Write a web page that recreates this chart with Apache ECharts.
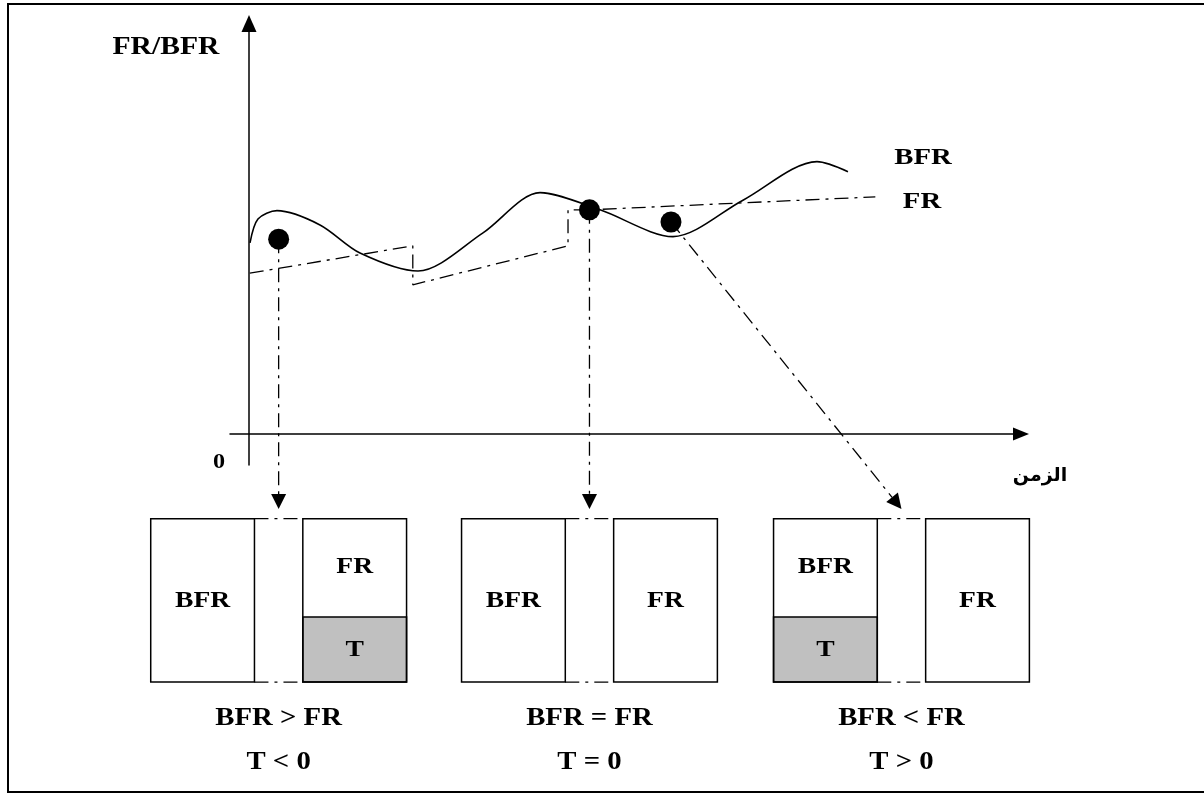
<!DOCTYPE html>
<html>
<head>
<meta charset="utf-8">
<script src="https://cdn.jsdelivr.net/npm/echarts@6/dist/echarts.min.js"></script>
<style>
html, body { margin: 0; padding: 0; background: #ffffff; }
#chart { width: 1204px; height: 794px; }
</style>
</head>
<body>
<div id="chart"></div>
<script>
// ================= DATA =================
// BFR curve (time, value)
const bfrTime  = [0.13, 1.15, 3.59, 9.1, 14.23, 21.67, 30.0, 37.31, 45.0, 54.36, 63.33, 72.82, 76.79];
const bfrValue = [45.6, 51.3, 53.3, 49.9, 43.2, 38.9, 48.0, 57.6, 53.5, 47.1, 55.8, 65.0, 62.6];
// FR step/ramp line (time, value)
const frTime   = [0.1, 21.0, 21.0, 40.9, 40.9, 43.65, 80.3];
const frValue  = [38.4, 44.9, 35.6, 44.9, 53.5, 53.5, 56.6];
// highlighted observation points
const pointTime  = [3.8, 43.65, 54.1];
const pointValue = [46.5, 53.5, 50.6];
// the three cases shown below the axis
const caseTime     = [3.8, 43.65, 83.65];
const caseBFR      = [39, 39, 23.5];
const caseFR       = [23.5, 39, 39];
const caseRelation = ['BFR > FR', 'BFR = FR', 'BFR < FR'];
const caseT        = ['T < 0', 'T = 0', 'T > 0'];
const seriesNames  = ['BFR', 'FR'];
const gapName      = 'T';
const yAxisName    = 'FR/BFR';
const xAxisName    = 'الزمن';
const originLabel  = '0';

// ================= LAYOUT =================
const PX_PER_X = 7.8, PX_PER_Y = 4.19;
const ORIGIN_PX = [249, 434];
const ux = px => (px - ORIGIN_PX[0]) / PX_PER_X;
const uy = py => (ORIGIN_PX[1] - py) / PX_PER_Y;
const PLOT = { left: 230, right: 1021, top: 23.5, bottom: 465 };
const BOX_BASE = -59.2, BOX_W = 13.3, BOX_GAP_HALF = 3.1;
const ARROW_TIP_V = -17.9;
const CAPTION_V = [-67.8, -78.5];
const DASHDOT = [14, 6, 3, 6];
const SERIF = '"Liberation Serif", "Times New Roman", serif';

const zip = (a, b) => a.map((v, i) => [v, b[i]]);

function renderArrow(params, api) {
  const i = params.dataIndex;
  const s = api.coord([pointTime[i], pointValue[i]]);
  const t = api.coord([caseTime[i], ARROW_TIP_V]);
  const dx = t[0] - s[0], dy = t[1] - s[1];
  const len = Math.sqrt(dx * dx + dy * dy);
  const ux_ = dx / len, uy_ = dy / len;
  const headL = 15, headW = 7.5;
  const b = [t[0] - ux_ * headL, t[1] - uy_ * headL];
  return {
    type: 'group',
    children: [
      { type: 'line', shape: { x1: s[0], y1: s[1], x2: b[0], y2: b[1] },
        style: { stroke: '#000', lineWidth: 1.3, lineDash: DASHDOT } },
      { type: 'polygon', shape: { points: [t, [b[0] - uy_ * headW, b[1] + ux_ * headW], [b[0] + uy_ * headW, b[1] - ux_ * headW]] },
        style: { fill: '#000' } }
    ]
  };
}

function txt(x, y, text, size, scaleX) {
  return { type: 'text', x: x, y: y, scaleX: scaleX, scaleY: 1,
    style: { text: text, textAlign: 'center', textVerticalAlign: 'middle',
      font: 'bold ' + size + 'px ' + SERIF, fill: '#000' } };
}

function renderCase(params, api) {
  const i = params.dataIndex;
  const c = caseTime[i];
  const total = Math.max(caseBFR[i], caseFR[i]);
  const top = BOX_BASE + total;
  const boxes = [
    { x0: c - BOX_GAP_HALF - BOX_W, x1: c - BOX_GAP_HALF, main: caseBFR[i], label: seriesNames[0] },
    { x0: c + BOX_GAP_HALF, x1: c + BOX_GAP_HALF + BOX_W, main: caseFR[i], label: seriesNames[1] }
  ];
  const children = [];
  const pix = [];
  boxes.forEach(b => {
    const tl = api.coord([b.x0, top]);
    const br = api.coord([b.x1, BOX_BASE]);
    pix.push([tl, br]);
    const tVal = total - b.main;
    const cx = (tl[0] + br[0]) / 2;
    if (tVal > 0) {
      const sp = api.coord([b.x0, BOX_BASE + tVal]);
      children.push({ type: 'rect', shape: { x: tl[0], y: sp[1], width: br[0] - tl[0], height: br[1] - sp[1] },
        style: { fill: '#c0c0c0', stroke: '#000', lineWidth: 1.5 } });
      children.push(txt(cx, (tl[1] + sp[1]) / 2 - 1, b.label, 24, 1.15));
      children.push(txt(cx, (sp[1] + br[1]) / 2, gapName, 24, 1.15));
    } else {
      children.push(txt(cx, (tl[1] + br[1]) / 2, b.label, 24, 1.15));
    }
    children.push({ type: 'rect', shape: { x: tl[0], y: tl[1], width: br[0] - tl[0], height: br[1] - tl[1] },
      style: { fill: 'none', stroke: '#000', lineWidth: 1.5 } });
  });
  // dash-dot connectors between the two boxes
  children.push({ type: 'line', shape: { x1: pix[0][1][0], y1: pix[0][0][1], x2: pix[1][0][0], y2: pix[1][0][1] },
    style: { stroke: '#000', lineWidth: 1.3, lineDash: DASHDOT } });
  children.push({ type: 'line', shape: { x1: pix[0][1][0], y1: pix[0][1][1], x2: pix[1][0][0], y2: pix[1][1][1] },
    style: { stroke: '#000', lineWidth: 1.3, lineDash: DASHDOT } });
  const cap1 = api.coord([c, CAPTION_V[0]]);
  const cap2 = api.coord([c, CAPTION_V[1]]);
  children.push(txt(cap1[0], cap1[1], caseRelation[i], 25, 1.15));
  children.push(txt(cap2[0], cap2[1], caseT[i], 25, 1.15));
  return { type: 'group', children: children };
}

const chart = echarts.init(document.getElementById('chart'), null, { renderer: 'canvas' });
const hiddenAxis = { show: false, type: 'value' };
chart.setOption({
  animation: false,
  backgroundColor: '#ffffff',
  grid: [
    { left: PLOT.left, top: PLOT.top, width: PLOT.right - PLOT.left, height: PLOT.bottom - PLOT.top },
    { left: 0, top: 0, width: 1204, height: 794 }
  ],
  xAxis: [
    { gridIndex: 0, type: 'value', min: ux(PLOT.left), max: ux(PLOT.right),
      axisLine: { show: true, onZero: true, symbol: ['none', 'triangle'], symbolSize: [13, 16],
        lineStyle: { color: '#000', width: 1.5 } },
      axisTick: { show: false }, axisLabel: { show: false }, splitLine: { show: false } },
    Object.assign({ gridIndex: 1, min: ux(0), max: ux(1204) }, hiddenAxis)
  ],
  yAxis: [
    { gridIndex: 0, type: 'value', min: uy(PLOT.bottom), max: uy(PLOT.top),
      axisLine: { show: true, onZero: true, symbol: ['none', 'triangle'], symbolSize: [15, 17],
        lineStyle: { color: '#000', width: 1.5 } },
      axisTick: { show: false }, axisLabel: { show: false }, splitLine: { show: false } },
    Object.assign({ gridIndex: 1, min: uy(794), max: uy(0) }, hiddenAxis)
  ],
  series: [
    { name: seriesNames[0], type: 'line', xAxisIndex: 0, yAxisIndex: 0, data: zip(bfrTime, bfrValue),
      smooth: 0.3, showSymbol: false, clip: false, lineStyle: { color: '#000', width: 1.6 }, z: 3 },
    { name: seriesNames[1], type: 'line', xAxisIndex: 0, yAxisIndex: 0, data: zip(frTime, frValue),
      smooth: false, showSymbol: false, clip: false, lineStyle: { color: '#000', width: 1.3, type: DASHDOT }, z: 3 },
    { type: 'custom', xAxisIndex: 1, yAxisIndex: 1, data: zip(pointTime, pointValue), renderItem: renderArrow, z: 2 },
    { type: 'custom', xAxisIndex: 1, yAxisIndex: 1, data: caseTime.map(t => [t, BOX_BASE]), renderItem: renderCase, z: 2 },
    { type: 'scatter', xAxisIndex: 0, yAxisIndex: 0, data: zip(pointTime, pointValue),
      symbol: 'circle', symbolSize: 21, itemStyle: { color: '#000', opacity: 1 }, z: 5 }
  ],
  graphic: [
    { type: 'rect', shape: { x: 8, y: 4, width: 1205, height: 788 },
      style: { fill: 'none', stroke: '#000', lineWidth: 2 }, silent: true },
    txt(166, 47, yAxisName, 26, 1.14),
    txt(923, 158, seriesNames[0], 23, 1.25),
    txt(922, 202, seriesNames[1], 23, 1.25),
    txt(219, 462, originLabel, 22, 1.1),
    { type: 'text', x: 1040, y: 476,
      style: { text: xAxisName, textAlign: 'center', textVerticalAlign: 'middle',
        font: 'bold 19px "DejaVu Sans", "Noto Sans", sans-serif', fill: '#000' } }
  ]
});
</script>
</body>
</html>
